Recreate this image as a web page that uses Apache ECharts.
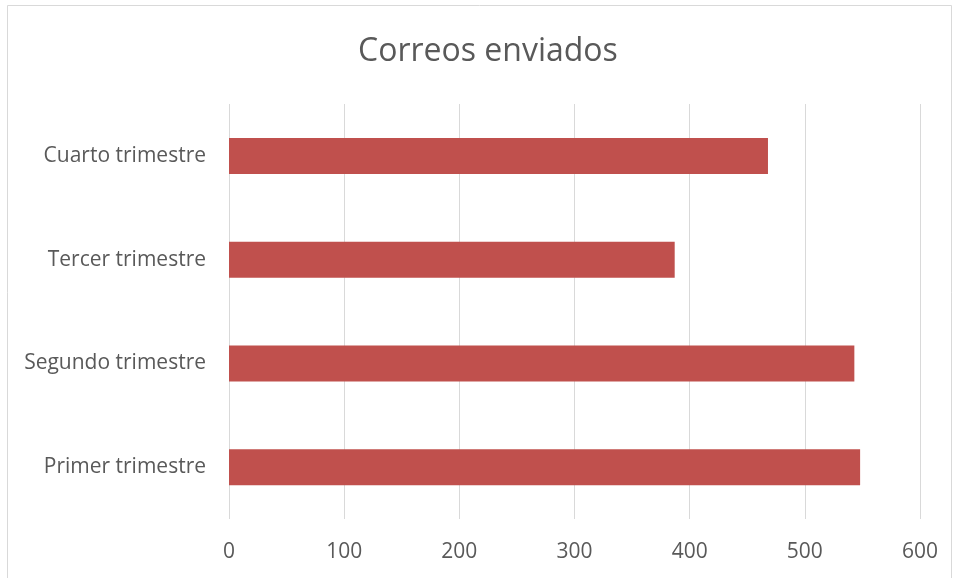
<!DOCTYPE html>
<html><head><meta charset="utf-8">
<script src="https://cdn.jsdelivr.net/npm/echarts@6/dist/echarts.min.js"></script>
<style>html,body{margin:0;padding:0;background:#fff}#c{width:956px;height:578px}</style>
</head><body><div id="c"></div>
<script>
const categories = ['Primer trimestre','Segundo trimestre','Tercer trimestre','Cuarto trimestre'];
const values = [548, 543, 387, 468];
const xTicks = [0,100,200,300,400,500,600];
const chart = echarts.init(document.getElementById('c'));
const font = '"Open Sans", sans-serif';
chart.setOption({
  animation:false,
  backgroundColor:'#fff',
  graphic:[{type:'rect',shape:{x:7.5,y:5.5,width:944,height:580},style:{fill:'none',stroke:'#D9D9D9',lineWidth:1},silent:true}],
  title:{text:'Correos enviados',left:353,top:31,textStyle:{fontFamily:font,fontSize:32,fontWeight:'normal',color:'#595959'}},
  grid:{left:229,right:36,top:104,bottom:59,containLabel:false},
  xAxis:{type:'value',min:xTicks[0],max:xTicks[xTicks.length-1],interval:100,
    axisLine:{show:false},axisTick:{show:false},
    splitLine:{lineStyle:{color:'#D9D9D9',width:1}},
    axisLabel:{fontFamily:font,fontSize:21,color:'#595959',margin:23}},
  yAxis:{type:'category',data:categories,
    axisLine:{show:false},axisTick:{show:false},
    axisLabel:{fontFamily:font,fontSize:21,color:'#595959',margin:23,padding:[3,0,0,0]}},
  series:[{type:'bar',data:values,barWidth:36,itemStyle:{color:'#C0504D'}}]
});
</script></body></html>
